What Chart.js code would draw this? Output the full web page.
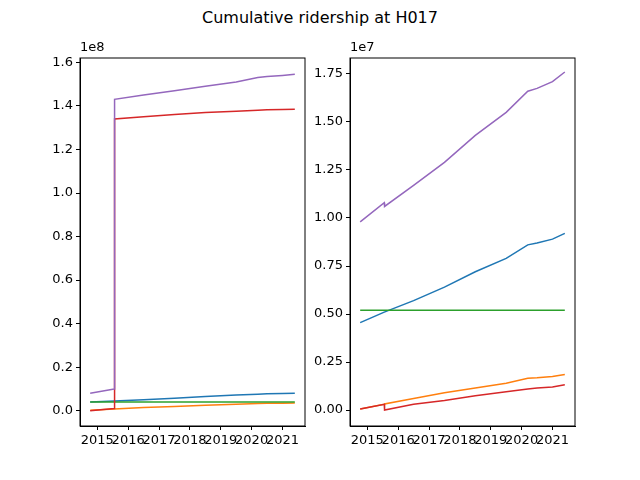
<!DOCTYPE html>
<html><head><meta charset="utf-8">
<script src="https://cdn.jsdelivr.net/npm/chart.js@4/dist/chart.umd.min.js"></script>
<style>
body{margin:0;width:640px;height:480px;background:#fff;position:relative;font-family:"DejaVu Sans",sans-serif}
#t{position:absolute;top:8px;width:640px;text-align:center;font-size:16px}
canvas{position:absolute;top:0}
</style></head><body>
<div id="t">Cumulative ridership at H017</div>
<div style="position:absolute;left:0;top:0;width:310px;height:480px"><canvas id="a"></canvas></div>
<div style="position:absolute;left:310px;top:0;width:270px;height:480px"><canvas id="b"></canvas></div>
<script>
// decimal years
const dates = [2014.77, 2015.55, 2015.56, 2016.5, 2017.5, 2018.5, 2019.5, 2020.2, 2020.5, 2021.0, 2021.4];
const colors = ['#1f77b4', '#ff7f0e', '#2ca02c', '#d62728', '#9467bd'];
const xTicks = [2015, 2016, 2017, 2018, 2019, 2020, 2021];
const leftTicks = [0, 0.2e8, 0.4e8, 0.6e8, 0.8e8, 1.0e8, 1.2e8, 1.4e8, 1.6e8];
const rightTicks = [0, 0.25e7, 0.5e7, 0.75e7, 1.0e7, 1.25e7, 1.5e7, 1.75e7];

// left panel (raw counts)
const leftBlue   = [4.0e6, 4.5e6, 4.5e6, 5.0e6, 5.8e6, 6.5e6, 7.2e6, 7.6e6, 7.8e6, 7.9e6, 8.0e6];
const leftOrange = [0.2e6, 0.8e6, 0.8e6, 1.5e6, 2.0e6, 2.5e6, 3.0e6, 3.3e6, 3.4e6, 3.5e6, 3.6e6];
const leftGreen  = [4.0e6, 4.0e6, 4.0e6, 4.0e6, 4.0e6, 4.0e6, 4.0e6, 4.0e6, 4.0e6, 4.0e6, 4.0e6];
const leftRed    = [0.0e8, 0.01e8, 1.34e8, 1.35e8, 1.36e8, 1.37e8, 1.375e8, 1.38e8, 1.382e8, 1.384e8, 1.385e8];
const leftPurple = [0.08e8, 0.10e8, 1.43e8, 1.45e8, 1.47e8, 1.49e8, 1.51e8, 1.53e8, 1.535e8, 1.54e8, 1.545e8];

// right panel (raw counts)
const rightBlue   = [4.55e6, 5.1e6, 5.1e6, 5.7e6, 6.4e6, 7.2e6, 7.9e6, 8.6e6, 8.7e6, 8.9e6, 9.2e6];
const rightOrange = [0.05e6, 0.3e6, 0.32e6, 0.6e6, 0.9e6, 1.15e6, 1.4e6, 1.65e6, 1.68e6, 1.75e6, 1.85e6];
const rightGreen  = [5.2e6, 5.2e6, 5.2e6, 5.2e6, 5.2e6, 5.2e6, 5.2e6, 5.2e6, 5.2e6, 5.2e6, 5.2e6];
const rightRed    = [0.05e6, 0.3e6, 0.0e6, 0.3e6, 0.5e6, 0.75e6, 0.95e6, 1.1e6, 1.15e6, 1.2e6, 1.32e6];
const rightPurple = [9.8e6, 10.8e6, 10.6e6, 11.7e6, 12.9e6, 14.3e6, 15.5e6, 16.6e6, 16.75e6, 17.1e6, 17.6e6];

const font = { family: "'DejaVu Sans', sans-serif", size: 13 };

const frame = exp => ({
  id: 'frame',
  afterDraw(c) {
    const { ctx, chartArea: a } = c;
    ctx.save();
    ctx.strokeStyle = '#000'; ctx.lineWidth = 1;
    ctx.strokeRect(a.left, a.top, a.right - a.left, a.bottom - a.top);
    ctx.fillStyle = '#000'; ctx.font = "13px 'DejaVu Sans'";
    ctx.textBaseline = 'bottom';
    ctx.fillText(exp, a.left, a.top - 4);
    ctx.restore();
  }
});

const makeChart = (id, series, yMin, yMax, yTicks, scale, digits, yWidth, exp) => new Chart(document.getElementById(id), {
  type: 'line',
  data: {
    datasets: series.map((s, i) => ({
      data: dates.map((d, j) => ({ x: d, y: s[j] })),
      borderColor: colors[i], borderWidth: 1.5, pointRadius: 0, tension: 0, order: 4 - i
    }))
  },
  options: {
    responsive: true, maintainAspectRatio: false, animation: false,
    layout: { padding: { top: 58, right: 5 } },
    plugins: { legend: { display: false }, tooltip: { enabled: false } },
    scales: {
      x: {
        type: 'linear', min: 2014.44, max: 2021.73,
        afterBuildTicks: s => { s.ticks = xTicks.map(v => ({ value: v })); },
        ticks: { color: '#000', font, maxRotation: 0, autoSkip: false, callback: v => String(v) },
        grid: { drawOnChartArea: false, tickLength: 4, color: '#000' },
        border: { color: '#000' },
        afterFit: s => { s.height = 54; }
      },
      y: {
        min: yMin, max: yMax,
        afterBuildTicks: s => { s.ticks = yTicks.map(v => ({ value: v })); },
        ticks: { color: '#000', font, autoSkip: false, callback: v => (v / scale).toFixed(digits) },
        grid: { drawOnChartArea: false, tickLength: 4, color: '#000' },
        border: { color: '#000' },
        afterFit: s => { s.width = yWidth; }
      }
    }
  },
  plugins: [frame(exp)]
});

makeChart('a', [leftBlue, leftOrange, leftGreen, leftRed, leftPurple], -0.07e8, 1.62e8, leftTicks, 1e8, 1, 80, '1e8');
makeChart('b', [rightBlue, rightOrange, rightGreen, rightRed, rightPurple], -0.083e7, 1.833e7, rightTicks, 1e7, 2, 40, '1e7');
</script>
</body></html>
